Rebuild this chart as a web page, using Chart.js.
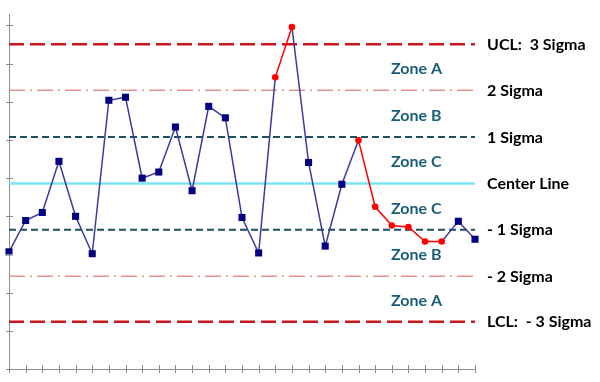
<!DOCTYPE html>
<html>
<head>
<meta charset="utf-8">
<script src="https://cdn.jsdelivr.net/npm/chart.js@4"></script>
<style>
  html, body { margin: 0; padding: 0; background: #ffffff; }
  #wrap { width: 600px; height: 382px; position: relative; }
</style>
</head>
<body>
<div id="wrap"><canvas id="c" width="600" height="382"></canvas></div>
<script>
// ---- data ----
const categories = ["1","2","3","4","5","6","7","8","9","10","11","12","13","14","15","16","17","18","19","20","21","22","23","24","25","26","27","28","29"];
const values = [3.07, 3.89, 4.10, 5.44, 4.00, 3.02, 7.04, 7.12, 5.00, 5.16, 6.34, 4.67, 6.88, 6.58, 3.97, 3.04, 7.64, 8.96, 5.41, 3.22, 4.84, 5.99, 4.25, 3.76, 3.72, 3.34, 3.34, 3.87, 3.40];
// points flagged by a control-chart rule (drawn red)
const flagged = [0,0,0,0,0,0,0,0,0,0,0,0,0,0,0,0,1,1,0,0,0,1,1,1,1,1,1,0,0];
const limitNames = ["UCL:  3 Sigma", "2 Sigma", "1 Sigma", "Center Line", "- 1 Sigma", "- 2 Sigma", "LCL:  - 3 Sigma"];
const limitValues = [8.51, 7.30, 6.08, 4.86, 3.65, 2.43, 1.24];
const zoneNames = ["Zone A", "Zone B", "Zone C", "Zone C", "Zone B", "Zone A"];
const yTickValues = [0, 1, 2, 3, 4, 5, 6, 7, 8, 9];

// ---- styles ----
const limitStyles = [
  { color: '#C8161D', width: 2.5, dash: [15, 6] },
  { color: '#E8908C', width: 1.5, dash: [16, 5, 2, 5] },
  { color: '#1D4F5E', width: 2, dash: [7, 4] },
  { color: '#7FE3F5', width: 2.5, dash: [] },
  { color: '#1D4F5E', width: 2, dash: [7, 4] },
  { color: '#E8908C', width: 1.5, dash: [16, 5, 2, 5] },
  { color: '#C8161D', width: 2.5, dash: [15, 6] }
];
const blueLine = '#3A3A9C', blueMark = '#000080', red = '#FF0000';

const datasets = [{
  label: 'Data',
  data: values,
  borderColor: blueLine,
  borderWidth: 1.5,
  tension: 0,
  pointStyle: flagged.map(f => f ? 'circle' : 'rect'),
  pointRadius: flagged.map(f => f ? 3.3 : 5),
  pointBackgroundColor: flagged.map(f => f ? red : blueMark),
  pointBorderColor: flagged.map(f => f ? red : blueMark),
  pointBorderWidth: 0,
  segment: {
    borderColor: ctx => (flagged[ctx.p0DataIndex] && flagged[ctx.p1DataIndex]) ? red : blueLine
  }
}];
limitValues.forEach((v, i) => {
  datasets.push({
    label: limitNames[i],
    data: categories.map(() => v),
    borderColor: limitStyles[i].color,
    borderWidth: limitStyles[i].width,
    borderDash: limitStyles[i].dash,
    pointRadius: 0,
    tension: 0
  });
});

const decor = {
  id: 'decor',
  afterDraw(chart) {
    const ctx = chart.ctx;
    const xs = chart.scales.x, ys = chart.scales.y;
    ctx.save();
    // tick marks crossing axes
    ctx.strokeStyle = '#8C8C8C';
    ctx.lineWidth = 1;
    ctx.beginPath();
    yTickValues.forEach(t => {
      const y = Math.round(ys.getPixelForValue(t)) + 0.5;
      ctx.moveTo(xs.left - 3, y); ctx.lineTo(xs.left + 4, y);
    });
    categories.forEach((c, i) => {
      const x = Math.round(xs.getPixelForValue(i)) + 0.5;
      ctx.moveTo(x, ys.bottom - 4); ctx.lineTo(x, ys.bottom + 4);
    });
    ctx.stroke();
    // right labels
    ctx.font = 'bold 16px Lato';
    ctx.textBaseline = 'middle';
    ctx.textAlign = 'left';
    ctx.fillStyle = '#000000';
    limitValues.forEach((v, i) => {
      ctx.fillText(limitNames[i], 487, ys.getPixelForValue(v) + 0.5);
    });
    // zone labels
    ctx.fillStyle = '#1A5E78';
    zoneNames.forEach((z, i) => {
      const y = (ys.getPixelForValue(limitValues[i]) + ys.getPixelForValue(limitValues[i + 1])) / 2;
      ctx.fillText(z, 391, y + 2);
    });
    ctx.restore();
  }
};

new Chart(document.getElementById('c'), {
  type: 'line',
  data: { labels: categories, datasets },
  options: {
    responsive: false,
    animation: false,
    layout: { padding: { left: 9, right: 125, top: 14, bottom: 13 } },
    plugins: { legend: { display: false }, tooltip: { enabled: false } },
    scales: {
      x: {
        offset: false,
        grid: { display: false, drawTicks: false },
        border: { display: true, color: '#8C8C8C', width: 1 },
        ticks: { display: false }
      },
      y: {
        min: 0, max: 9.3,
        grid: { display: false, drawTicks: false },
        border: { display: true, color: '#8C8C8C', width: 1 },
        ticks: { display: false, stepSize: 1 }
      }
    }
  },
  plugins: [decor]
});
</script>
</body>
</html>
